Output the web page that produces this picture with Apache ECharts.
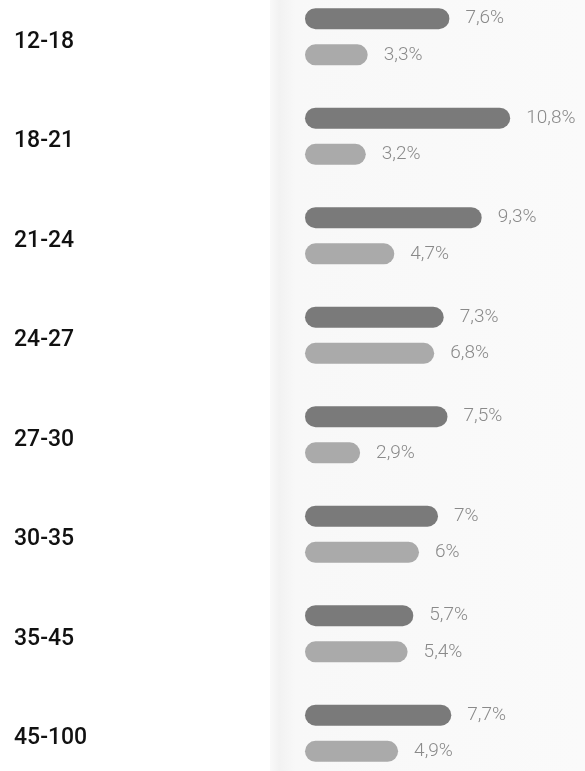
<!DOCTYPE html>
<html>
<head>
<meta charset="utf-8">
<script src="https://cdn.jsdelivr.net/npm/echarts@6/dist/echarts.min.js"></script>
<style>
html,body{margin:0;padding:0;background:#ffffff;overflow:hidden;}
#chart{position:absolute;left:0;top:-13px;width:585px;height:796px;}
</style>
</head>
<body>
<div id="chart"></div>
<script>
var categories = ['12-18', '18-21', '21-24', '24-27', '27-30', '30-35', '35-45', '45-100'];
var seriesDark = [7.6, 10.8, 9.3, 7.3, 7.5, 7, 5.7, 7.7];
var seriesLight = [3.3, 3.2, 4.7, 6.8, 2.9, 6, 5.4, 4.9];

function fmt(p) {
  return String(p.value).replace('.', ',') + '%';
}

var chart = echarts.init(document.getElementById('chart'), null, {renderer: 'canvas'});
chart.setOption({
  animation: false,
  backgroundColor: '#ffffff',
  graphic: [{
    type: 'rect',
    left: 270, top: 0, z: -10,
    shape: {width: 315, height: 796},
    style: {
      fill: new echarts.graphic.LinearGradient(0, 0, 1, 0, [
        {offset: 0, color: '#f9f9f9'},
        {offset: 0.03, color: '#f2f2f2'},
        {offset: 0.08, color: '#f8f8f8'},
        {offset: 1, color: '#fafafa'}
      ])
    }
  }],
  grid: {left: 305, width: 266, top: 0, bottom: 0, containLabel: false},
  xAxis: {
    type: 'value', min: 0, max: 14,
    show: false
  },
  yAxis: {
    type: 'category', data: categories, inverse: true,
    axisLine: {show: false}, axisTick: {show: false}, splitLine: {show: false},
    axisLabel: {
      align: 'left', margin: 291,
      formatter: function (v) { return '{c|' + v + '}'; },
      rich: {
        c: {color: '#111111', fontFamily: 'Roboto', fontWeight: 500, fontSize: 23,
            padding: [10, 0, 0, 0]}
      }
    }
  },
  series: [{
    type: 'bar', data: seriesDark, barWidth: 21, barGap: '72%',
    itemStyle: {color: '#7a7a7a', borderRadius: 10.5},
    label: {show: true, position: 'right', distance: 16, formatter: fmt,
      color: '#8a8a8a', fontFamily: 'Roboto', fontWeight: 300, fontSize: 19}
  }, {
    type: 'bar', data: seriesLight, barWidth: 21,
    itemStyle: {color: '#aaaaaa', borderRadius: 10.5},
    label: {show: true, position: 'right', distance: 16, formatter: fmt,
      color: '#8a8a8a', fontFamily: 'Roboto', fontWeight: 300, fontSize: 19}
  }]
});
</script>
</body>
</html>
